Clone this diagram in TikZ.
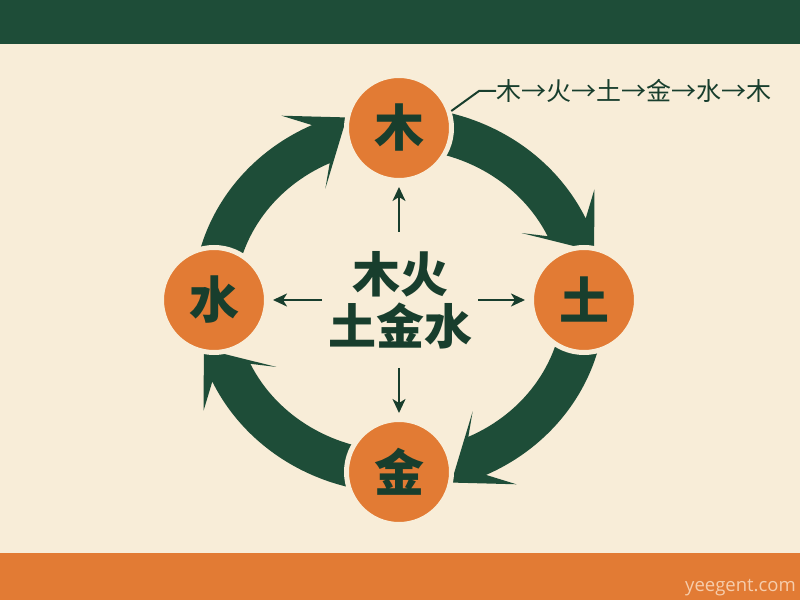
\documentclass[tikz,border=0pt]{standalone}
\usepackage{fontspec}
\newfontfamily\cjk{Noto Sans CJK SC}
\newfontfamily\wmfont{Open Sans}
\usetikzlibrary{arrows.meta}
\definecolor{bgc}{RGB}{248,237,216}
\definecolor{dg}{RGB}{30,77,56}
\definecolor{org}{RGB}{226,123,52}
\definecolor{txtg}{RGB}{24,62,45}
\definecolor{wmc}{RGB}{246,205,172}
\newcommand\ringarrow[1]{%
  \fill[dg] ({#1+90}:206pt and 193pt)
    arc[start angle={#1+90}, end angle={#1+25}, x radius=206pt, y radius=193pt]
    -- ({#1+31}:228pt and 215pt) -- ({#1+15}:202pt and 189pt)
    -- ({#1+31}:143pt and 130pt) -- ({#1+25}:164pt and 151pt)
    arc[start angle={#1+25}, end angle={#1+90}, x radius=164pt, y radius=151pt]
    -- cycle;}
\tikzset{
  elem/.style={circle, fill=org, draw=bgc, line width=5pt, minimum size=105pt,
    inner sep=0pt, text=txtg, font=\cjk\bfseries\fontsize{50}{50}\selectfont},
  sarrow/.style={draw=txtg, line width=2.2pt, -{Stealth[length=14pt,width=13pt,inset=4pt]}, shorten >=4pt},
  leader/.style={draw=txtg, line width=2pt},
}
\begin{document}
\begin{tikzpicture}[x=1pt,y=1pt]
\useasboundingbox (0,0) rectangle (800,600);
\fill[bgc] (0,0) rectangle (800,600);
\fill[dg] (0,556) rectangle (800,600);
\fill[org] (0,0) rectangle (800,47);
\begin{scope}[shift={(399,300)}]
  \ringarrow{90}
  \ringarrow{0}
  \ringarrow{-90}
  \ringarrow{180}
\end{scope}
\node[elem] (nmu) at (399,472) {木};
\node[elem] (ntu) at (584,300) {土};
\node[elem] (njin) at (399,128) {金};
\node[elem] (nshui) at (214,300) {水};
\node[text=txtg, align=center, font=\cjk\bfseries\fontsize{48}{52}\selectfont] (ncenter) at (400,300) {木火\\土金水};
\coordinate (cu) at (399,368);
\coordinate (cl) at (322,300);
\coordinate (cr) at (478,300);
\coordinate (cd) at (399,232);
\draw[sarrow] (cu) -- (nmu);
\draw[sarrow] (cl) -- (nshui);
\draw[sarrow] (cr) -- (ntu);
\draw[sarrow] (cd) -- (njin);
\node[anchor=west, inner sep=0pt, text=txtg, font=\cjk\fontsize{25}{25}\selectfont] (nlabel) at (496,509) {木→火→土→金→水→木};
\coordinate (lk) at (479,509);
\draw[leader] (nmu.18) -- (lk) -- (nlabel.west);
\node[anchor=east, inner sep=0pt, text=wmc, font=\wmfont\fontsize{18.5}{18.5}\selectfont] (nwm) at (796,12) {yeegent.com};
\end{tikzpicture}
\end{document}
